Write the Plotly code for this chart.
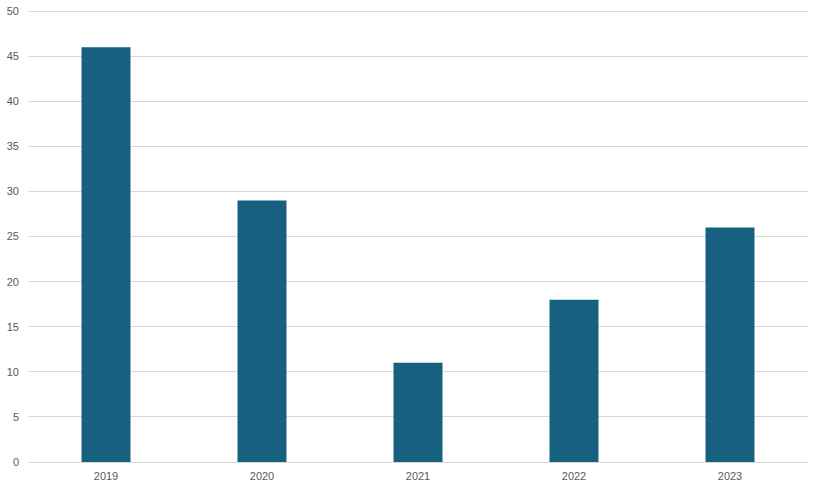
import plotly.graph_objects as go

years = ["2019", "2020", "2021", "2022", "2023"]
values = [46, 29, 11, 18, 26]

fig = go.Figure(go.Bar(x=years, y=values, marker_color="#17607F", marker_line_width=0))
fig.update_layout(
    width=817, height=490,
    margin=dict(l=28, r=9, t=9, b=28, autoexpand=False),
    plot_bgcolor="white", paper_bgcolor="white",
    bargap=0.686,
    showlegend=False,
    font=dict(family="Liberation Sans", size=11, color="#595959"),
)
fig.update_yaxes(range=[0, 50.25], dtick=5, tick0=0, gridcolor="#D9D9D9", gridwidth=1,
                 zeroline=True, zerolinecolor="#D9D9D9", zerolinewidth=1,
                 ticklabelstandoff=8, showline=False, automargin=False)
fig.update_xaxes(showline=True, linecolor="#D9D9D9", linewidth=1, ticklabelstandoff=4,
                 automargin=False)
fig.write_html("out.html", config={"displayModeBar": False},
               post_script="document.body.style.margin='0';document.body.style.overflow='hidden';")
